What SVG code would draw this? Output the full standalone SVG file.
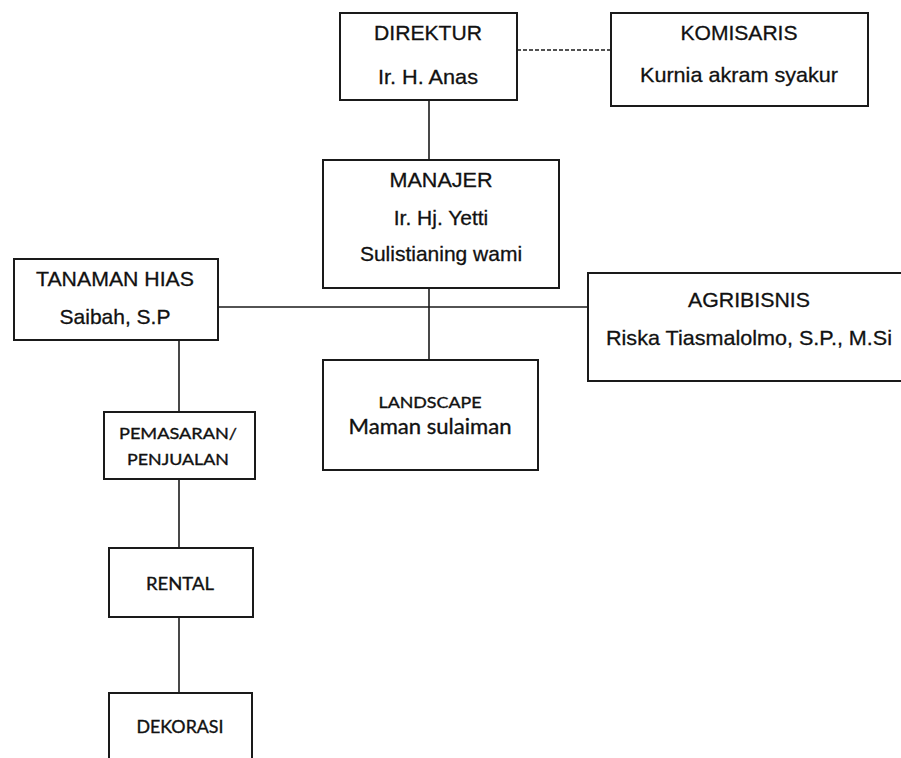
<svg xmlns="http://www.w3.org/2000/svg" width="901" height="758" viewBox="0 0 901 758">
<style>
.box{fill:#fff;stroke:#1a1a1a;stroke-width:2}
.ln{stroke:#1a1a1a;stroke-width:1.6;fill:none}
.dash{stroke:#1a1a1a;stroke-width:1.4;stroke-dasharray:4 2;fill:none}
.a{font-family:"Liberation Sans",Arial,sans-serif;font-size:21px;fill:#111;text-anchor:middle;stroke:#111;stroke-width:0.3}
.c{font-family:Lato,"Noto Sans",sans-serif;fill:#111;text-anchor:middle;stroke:#111;stroke-width:0.35}
</style>
<rect width="901" height="758" fill="#fff"/>
<g id="connectors">
<line class="dash" x1="517" y1="50" x2="611" y2="50"/>
<line class="ln" x1="429" y1="100" x2="429" y2="160"/>
<line class="ln" x1="218" y1="307" x2="588" y2="307"/>
<line class="ln" x1="429" y1="288" x2="429" y2="360"/>
<line class="ln" x1="179" y1="340" x2="179" y2="412"/>
<line class="ln" x1="179" y1="479" x2="179" y2="548"/>
<line class="ln" x1="179" y1="617" x2="179" y2="693"/>
</g>
<g id="direktur">
<rect class="box" x="340" y="13" width="177" height="87"/>
<text class="a" x="428" y="40" textLength="108" lengthAdjust="spacingAndGlyphs">DIREKTUR</text>
<text class="a" x="428" y="84" textLength="100" lengthAdjust="spacingAndGlyphs">Ir. H. Anas</text>
</g>
<g id="komisaris">
<rect class="box" x="611" y="13" width="257" height="93"/>
<text class="a" x="739" y="40" textLength="117" lengthAdjust="spacingAndGlyphs">KOMISARIS</text>
<text class="a" x="739" y="82" textLength="198" lengthAdjust="spacingAndGlyphs">Kurnia akram syakur</text>
</g>
<g id="manajer">
<rect class="box" x="323" y="160" width="236" height="128"/>
<text class="a" x="441" y="187" textLength="103" lengthAdjust="spacingAndGlyphs">MANAJER</text>
<text class="a" x="441" y="225">Ir. Hj. Yetti</text>
<text class="a" x="441" y="261">Sulistianing wami</text>
</g>
<g id="tanaman-hias">
<rect class="box" x="14" y="259" width="204" height="81"/>
<text class="a" x="115" y="286" textLength="158" lengthAdjust="spacingAndGlyphs">TANAMAN HIAS</text>
<text class="a" x="115" y="324">Saibah, S.P</text>
</g>
<g id="agribisnis">
<rect class="box" x="588" y="273" width="322" height="108"/>
<text class="a" x="749" y="307" textLength="122" lengthAdjust="spacingAndGlyphs">AGRIBISNIS</text>
<text class="a" x="749" y="345" textLength="286" lengthAdjust="spacingAndGlyphs">Riska Tiasmalolmo, S.P., M.Si</text>
</g>
<g id="landscape">
<rect class="box" x="323" y="360" width="215" height="110"/>
<text class="c" x="430" y="408" font-size="15" textLength="103" lengthAdjust="spacingAndGlyphs">LANDSCAPE</text>
<text class="c" x="430" y="434" font-size="21" textLength="163" lengthAdjust="spacingAndGlyphs">Maman sulaiman</text>
</g>
<g id="pemasaran">
<rect class="box" x="104" y="412" width="151" height="67"/>
<text class="c" x="178" y="439" font-size="16" textLength="118" lengthAdjust="spacingAndGlyphs">PEMASARAN/</text>
<text class="c" x="178" y="465" font-size="16" textLength="102" lengthAdjust="spacingAndGlyphs">PENJUALAN</text>
</g>
<g id="rental">
<rect class="box" x="109" y="548" width="144" height="69"/>
<text class="c" x="180" y="590" font-size="17" textLength="68" lengthAdjust="spacingAndGlyphs">RENTAL</text>
</g>
<g id="dekorasi">
<rect class="box" x="109" y="693" width="143" height="80"/>
<text class="c" x="180" y="733" font-size="17" textLength="87" lengthAdjust="spacingAndGlyphs">DEKORASI</text>
</g>
</svg>
